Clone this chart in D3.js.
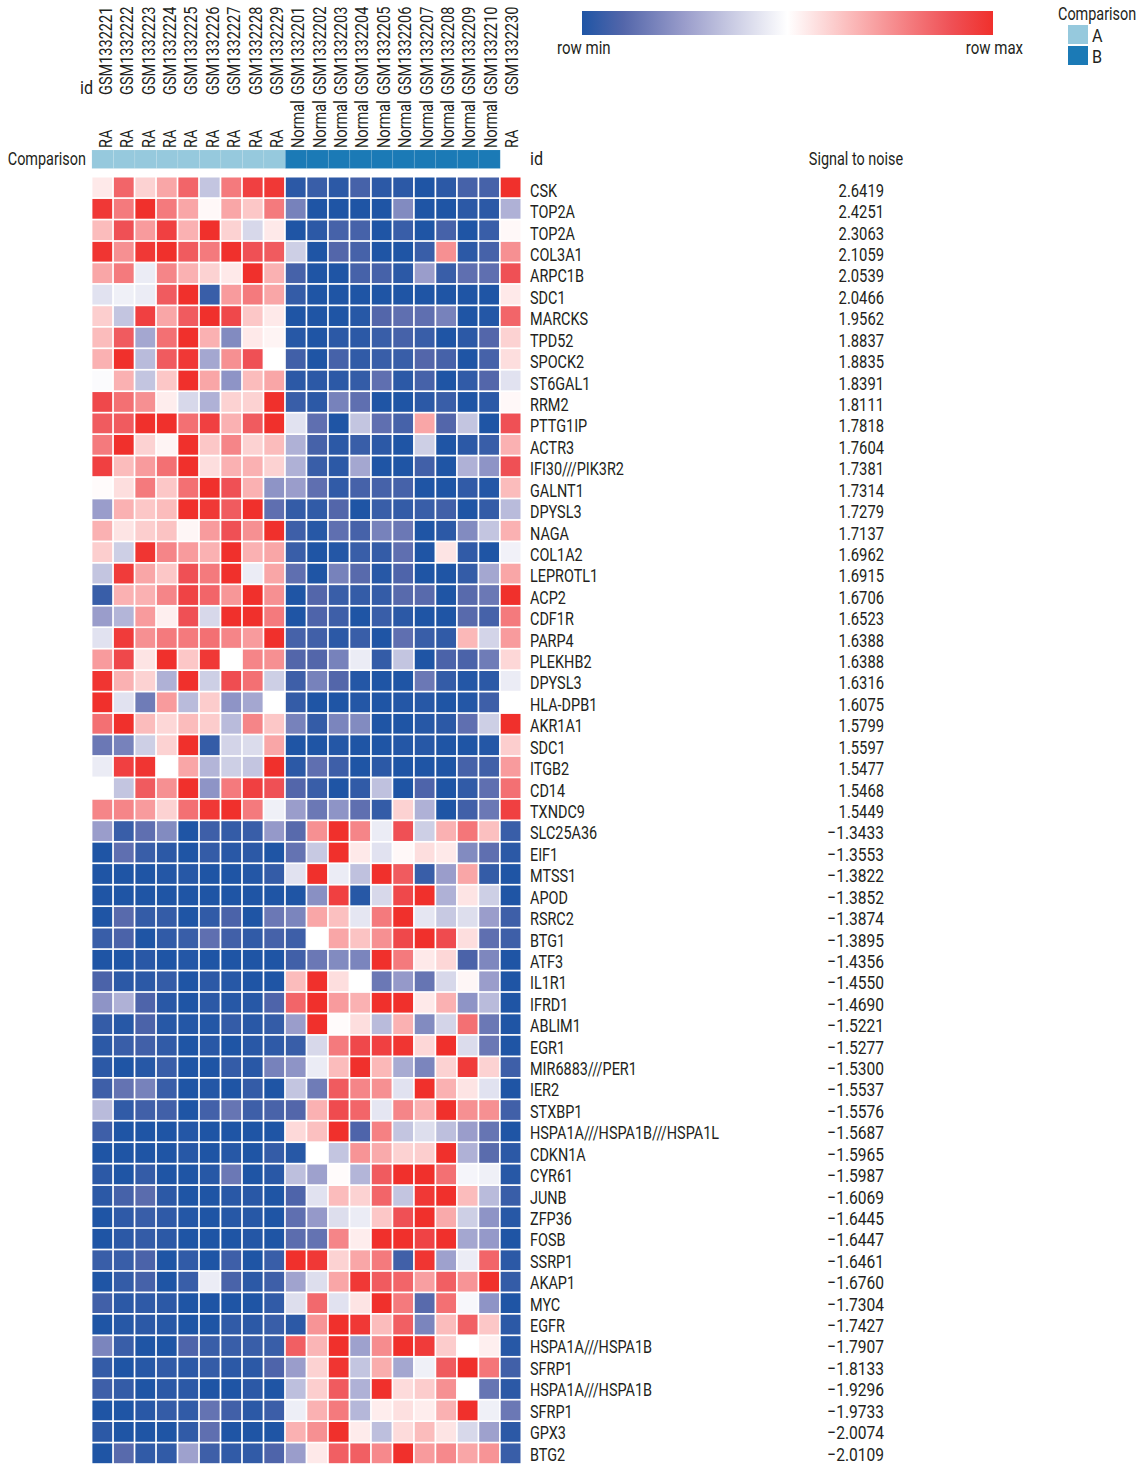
<!DOCTYPE html>
<html><head><meta charset="utf-8">
<script src="https://d3js.org/d3.v7.min.js"></script>
<style>html,body{margin:0;background:#fff}svg{display:block}text{font-family:Roboto,"Open Sans",sans-serif;fill:#231f20}</style>
</head><body><div id="c"></div>
<script>
const sampleIds=["GSM1332221","GSM1332222","GSM1332223","GSM1332224","GSM1332225","GSM1332226","GSM1332227","GSM1332228","GSM1332229","GSM1332201","GSM1332202","GSM1332203","GSM1332204","GSM1332205","GSM1332206","GSM1332207","GSM1332208","GSM1332209","GSM1332210","GSM1332230"];
const sampleTypes=["RA","RA","RA","RA","RA","RA","RA","RA","RA","Normal","Normal","Normal","Normal","Normal","Normal","Normal","Normal","Normal","Normal","RA"];
const comparison=["A","A","A","A","A","A","A","A","A","B","B","B","B","B","B","B","B","B","B",null];
const genes=["CSK","TOP2A","TOP2A","COL3A1","ARPC1B","SDC1","MARCKS","TPD52","SPOCK2","ST6GAL1","RRM2","PTTG1IP","ACTR3","IFI30///PIK3R2","GALNT1","DPYSL3","NAGA","COL1A2","LEPROTL1","ACP2","CDF1R","PARP4","PLEKHB2","DPYSL3","HLA-DPB1","AKR1A1","SDC1","ITGB2","CD14","TXNDC9","SLC25A36","EIF1","MTSS1","APOD","RSRC2","BTG1","ATF3","IL1R1","IFRD1","ABLIM1","EGR1","MIR6883///PER1","IER2","STXBP1","HSPA1A///HSPA1B///HSPA1L","CDKN1A","CYR61","JUNB","ZFP36","FOSB","SSRP1","AKAP1","MYC","EGFR","HSPA1A///HSPA1B","SFRP1","HSPA1A///HSPA1B","SFRP1","GPX3","BTG2"];
const signalToNoise=[2.6419,2.4251,2.3063,2.1059,2.0539,2.0466,1.9562,1.8837,1.8835,1.8391,1.8111,1.7818,1.7604,1.7381,1.7314,1.7279,1.7137,1.6962,1.6915,1.6706,1.6523,1.6388,1.6388,1.6316,1.6075,1.5799,1.5597,1.5477,1.5468,1.5449,-1.3433,-1.3553,-1.3822,-1.3852,-1.3874,-1.3895,-1.4356,-1.4550,-1.4690,-1.5221,-1.5277,-1.5300,-1.5537,-1.5576,-1.5687,-1.5965,-1.5987,-1.6069,-1.6445,-1.6447,-1.6461,-1.6760,-1.7304,-1.7427,-1.7907,-1.8133,-1.9296,-1.9733,-2.0074,-2.0109];
// row-scaled expression, -10 = row min, 10 = row max
const expression=[
[1,7,2,4,7,-3,6,9,9.5,-9.5,-9,-9.5,-8.5,-9.5,-9.5,-10,-9.5,-8.5,-8.5,10],
[9.5,6,10,6,4,0.3,4,2.5,6,-6.5,-10,-10,-10,-10,-6,-10,-10,-9.5,-9.5,-4],
[3,8,4.5,9,3.5,10,2,-2,1,-10,-9.5,-8.5,-8.5,-10,-9,-10,-8.5,-10,-9,0.3],
[9.7,5,9.5,10,7.5,6,10,8,7.5,-2.5,-10,-8,-8.5,-10,-10,-9,5,-9.5,-8.5,5],
[4,6,-1,5.5,3.5,2,1,10,3.5,-8.5,-10,-10,-8.5,-8.5,-9.5,-5,-9,-7.5,-7.5,8],
[-1.5,-0.8,-1,7.5,10,-9,4.5,6,4,-9.2,-10,-10,-10,-10,-10,-10,-10,-10,-10,1],
[2.2,-3,9,4,7.5,10,8.5,2.5,1,-10,-10,-10,-9.7,-8,-7.5,-7.5,-6.5,-10,-9.8,7],
[3,7.5,-4.5,6.5,10,3.5,-6,1,0.5,-9.7,-10,-9.5,-9.5,-9,-8.5,-9,-10,-9.5,-8,2],
[3.5,10,-3.5,7.5,9.5,-4.5,5,8,0,-8.7,-10,-8.5,-9.3,-9,-9,-8,-8.5,-10,-8.5,1.5],
[-0.2,3.5,-3,2.5,10,4,-5.5,3,4,-9.5,-9.5,-9.5,-9.2,-7.5,-9.5,-8.5,-10,-9.3,-8,-1.5],
[8.5,6.5,5,0.8,-2,-4,2,2,10,-9,-9.5,-6.5,-7.5,-10,-10,-9.5,-9,-10,-9.5,0.3],
[7.5,7.5,10,10,6.5,9,3.5,7.5,10,-1.5,-7.5,-10,-3,-7.5,-8.5,4,-8,-3,-10,8],
[6,10,2,0.5,10,2.5,5.5,2,3,-4,-8.5,-9.5,-9,-9.5,-10,-2.5,-10,-9.5,-9,3.5],
[9,3,4.5,6.5,10,1.5,3.5,3.5,2,-4,-9,-9.5,-4.5,-10,-10,-8.7,-10,-4,-5.5,8],
[0.2,1.5,6,2.5,6.5,10,8,3.5,-5.5,-5,-7.5,-9.3,-8.5,-8.5,-8.5,-10,-10,-9.3,-9.8,3],
[-5,3.5,2.5,3,10,9.5,7.5,10,-7.5,-9.2,-9.3,-8,-10,-9,-9.2,-9,-8.7,-10,-9.2,-3.5],
[3.5,1.2,2.2,2.7,0.4,4.5,8,5,10,-8.8,-9.7,-7.5,-8.5,-6.5,-7,-10,-9.5,-6,-3,3.5],
[2.2,-2.5,9.7,5.5,4.5,3.5,10,3.5,4,-9,-10,-9.8,-9,-9.2,-7.5,-10,1.2,-9.3,-10,-0.7],
[-3,9.3,4,2.5,8,6,10,-1,4,-7.5,-10,-6.5,-7.8,-9.7,-8.2,-10,-10,-9.2,-4.5,4],
[-9,3.5,3.5,5.5,8.8,7,4.7,10,5,-10,-8,-9,-9.2,-9.2,-7.8,-7.8,-10,-7.8,-7,10],
[-5,-3.8,4.5,0.7,8,-2,10,10,6,-10,-8.2,-8.8,-10,-9,-9.5,-10,-10,-7.8,-8.5,6],
[-1.5,9.3,5,6,6,6.5,5.5,4.5,10,-8.5,-8.7,-9.5,-9,-10,-7.5,-9,-9.3,3.2,-2.2,4.5],
[4.5,8.5,1.2,10,2.5,9.5,0,5.5,5,-8,-8,-6.5,-1,-9.2,-3,-10,-8.3,-8.3,-6.8,1.8],
[9.7,3.5,2,-4,10,-2.5,8.2,6.5,-2.5,-8.8,-6.5,-8,-9.8,-10,-10,-7,-9.2,-9.8,-9.5,-1],
[10,-1.5,-6.8,4.5,-3.5,2.3,-5.5,-4.5,0,-9.2,-10,-10,-9.8,-10,-9.8,-9.7,-10,-9.8,-8.8,0],
[6.5,10,3,1.8,3,2.3,-3.5,5.5,2.5,-6.5,-9.2,-6.3,-6,-10,-10,-9.7,-9.5,-7.5,-2.5,10],
[-7,-6.5,-2.5,2,10,-9.2,-2.2,-1.8,4,-10,-10,-9.8,-10,-10,-9.8,-9.7,-10,-10,-9.8,2.2],
[-1,9,9.7,0,4,-3.8,-2.5,-3,10,-9.5,-7.5,-8.8,-10,-9.5,-10,-10,-10,-8.5,-8.7,4.5],
[0,-3,7.5,5,10,-5.5,6,9,8,-8,-9,-10,-9.3,-3.2,-10,-8.2,-10,-9.3,-7.5,6.5],
[5.5,5.5,4.5,2,6.5,9.5,10,6,-0.8,-5,-7,-5.5,-7.5,-9.2,2,-4,-10,-8.7,-7,9],
[-5,-9,-7.5,-6,-10,-8.8,-9.2,-9,-5.2,-7.8,5,10,5.5,-1,8,-2.5,3.5,6.2,2.8,-9],
[-10,-7.5,-9,-9.5,-10,-9.2,-9.6,-9.5,-10,-7.3,-2.8,10,1,-1.5,0.3,1.5,1,-6,-7.5,-9.5],
[-10,-10,-10,-9.8,-9.7,-10,-10,-9.8,-9.2,-1.5,10,-1,-3.2,10,7.5,-9,-5,4,-9.2,-10],
[-10,-10,-10,-10,-10,-10,-10,-10,-10,-10,-5.7,9,-9.7,-2,8.5,10,-4,1.2,-2.5,-10],
[-10,-7.8,-9.2,-9.2,-10,-9.3,-8.3,-10,-7,-6.3,4,2.8,-1.3,6,10,-1.3,-2.8,-1.7,-5,-8.8],
[-9,-8.3,-10,-9.3,-9,-7.5,-8.7,-9.3,-8.5,-8.8,0,4,2.7,5,8.5,10,8.3,1.5,-7.5,-8.8],
[-10,-10,-9.6,-10,-9.8,-10,-10,-10,-10,-8.7,-7,-6,-6.3,10,6,1,1.8,-8.3,-6.2,-10],
[-8.3,-9.5,-9.5,-9.2,-10,-9.5,-9.7,-10,-10,3,10,1.5,0,-7,-5.2,-7.2,-2,0.4,-5,-10],
[-5.5,-4,-8.2,-9.6,-10,-9.5,-9.7,-9.7,-8.2,7,10,4.5,3.5,10,10,1,3.5,-5.5,-3.5,-10],
[-9.2,-9.7,-8.3,-9.7,-9.8,-9.8,-9.2,-9.6,-9.2,-5,10,0.2,1.5,-3.5,3.5,-6,-2.2,6.5,-7,-10],
[-9.5,-9,-8.7,-9.3,-10,-9.6,-10,-9.6,-9.4,-9,-2,6,8.5,9,9.7,1.8,10,-1.8,-7,-10],
[-9.5,-10,-9.7,-9,-10,-10,-9.2,-9.6,-6.5,-5.5,-1,3,10,3.2,-4.3,-6.3,2,9.3,2,-8.8],
[-8.8,-7.3,-6.5,-9,-10,-9.8,-10,-9.2,-10,-3,-6.8,7.5,5.5,5,-1.5,10,3.5,1.2,-1.5,-10],
[-3.5,-9.3,-8.7,-8.7,-10,-8.6,-7.2,-8.8,-8.4,-8,3.5,8.3,7,-1.3,5.5,3.5,10,5,5,-8.7],
[-8.8,-10,-10,-10,-9.8,-10,-10,-10,-10,1.7,2.8,10,-8.2,5.7,-3,-1.7,-3.3,-5,-7.2,-10],
[-10,-10,-10,-10,-9.7,-10,-9.7,-10,-9.2,-9.7,0,-3,4.8,3.8,2,2.2,10,-4,-7.7,-9.5],
[-9.5,-10,-9.2,-10,-10,-9.7,-7,-10,-9.6,-3.3,-4.8,0.2,-3.8,7.5,10,10,6.5,-0.5,-0.8,-9.7],
[-9.5,-8.5,-7.7,-9.5,-10,-10,-9.6,-9.6,-10,-8.2,-1.5,3,2,7,-3,9.5,10,3,-3.5,-9],
[-10,-9.4,-9,-9.4,-9.8,-10,-9.7,-9.7,-10,-7.5,-5.2,-1.7,-1,2.5,8,10,3.8,-2.5,-5.5,-9.7],
[-10,-9.5,-9.2,-9.5,-10,-10,-10,-9.8,-10,-7.6,-7.3,5.5,0.8,10,10,8.8,10,-4.5,-5.2,-10],
[-9,-9,-8.3,-10,-9.3,-10,-8.8,-10,-9,10,9.5,2,4,6,-8.7,9.7,-4.8,-1,7,-9.5],
[-10,-9.2,-8.5,-10,-9,-1,-8.4,-9.5,-8.8,-4.7,-1.7,4,9.5,7.5,7,4.3,7.3,4.8,10,-9.2],
[-8.7,-9.5,-9.4,-9.5,-10,-10,-10,-10,-9.3,-1.7,6.8,-1.5,1.2,10,6,-7.8,6.5,-0.4,-5.5,-10],
[-10,-9.7,-9.5,-9.7,-10,-10,-9.3,-9.5,-9,-9.5,4.8,10,9.5,3,7.3,-6.3,3,7.2,2.5,-9.5],
[-6.3,-9,-10,-10,-8.2,-9,-9,-9,-9,7.3,3.3,10,-4.8,5.2,10,9.3,2.3,0,0.7,-9.7],
[-9.2,-10,-9.7,-9.3,-9.5,-9.2,-9.5,-9.5,-8.2,-5,2,9.7,-3,3.7,-4.5,-0.8,7.5,10,6.2,-8.7],
[-8.8,-9.2,-10,-9.5,-9.5,-10,-10,-9.5,-10,-3.3,2.2,7.5,-4,10,1.6,2.3,5,0,-7.2,-9.5],
[-10,-10,-9.6,-9.2,-9.3,-7.3,-8.7,-9.5,-8.9,-0.9,3.5,6,-3.7,0.8,1.4,0.8,3.5,10,-0.8,-7],
[-9.5,-10,-10,-10,-9.3,-7.5,-10,-10,-10,3.5,5,10,0.9,-3.3,1.6,3,1.2,-2,-4.8,-9.5],
[-10,-7.8,-9.3,-9.3,-4.8,-8.8,-9.3,-9.3,-8.2,-5,1,7.3,7.3,5.3,10,4.5,5.3,4,4.8,-9]
];
const legendClasses=["A","B"];

const W=1142,H=1464,FS=19,SX=0.76;
const svg=d3.select("#c").append("svg").attr("width",W).attr("height",H);
const x=d3.scaleBand().domain(d3.range(sampleIds.length)).range([92.4,520.5]).paddingInner(0.08);
const y=d3.scaleBand().domain(d3.range(genes.length)).range([177.5,1463.2]).paddingInner(0.08);
const colLabelX=d3.scalePoint().domain(d3.range(sampleIds.length)).range([112,518]);
const rowLabelY=d3.scalePoint().domain(d3.range(genes.length)).range([196.8,1460.6]);
const color=d3.scaleLinear().domain([-10,-8,-5,-3,0,3,6,8,10]).range(["#1f55a5","#5366aa","#9a9dcb","#c3c5e0","#ffffff","#fbbcbc","#f47a7d","#ef5055","#f0302c"]);
const classColor=d3.scaleOrdinal().domain(legendClasses).range(["#96c9dd","#1b7ab6"]);
const narrow=(px,py,sx=SX,rot=0)=>`translate(${px},${py})${rot?` rotate(${rot})`:""} scale(${sx},1)`;

// heatmap
svg.append("g").selectAll("g").data(expression).join("g")
  .attr("transform",(d,i)=>`translate(0,${y(i)})`)
  .selectAll("rect").data(d=>d).join("rect")
  .attr("x",(d,j)=>x(j)).attr("width",x.bandwidth()).attr("height",y.bandwidth()).attr("fill",d=>color(d));

// annotation bar
svg.append("g").selectAll("rect").data(comparison.map((c,i)=>({c,i})).filter(d=>d.c)).join("rect")
  .attr("x",d=>x(d.i)-0.5).attr("y",150).attr("width",x.step()).attr("height",18.5)
  .attr("fill",d=>classColor(d.c)).attr("stroke","#fff").attr("stroke-opacity",0.12).attr("stroke-width",0.8);

// column labels
const colLabel=(vals,bottom)=>svg.append("g").selectAll("text").data(vals).join("text")
  .attr("transform",(d,i)=>narrow(colLabelX(i),bottom,0.765,-90))
  .attr("font-size",FS).text(d=>d);
colLabel(sampleIds,95);
colLabel(sampleTypes,148);
svg.append("text").attr("transform",narrow(80,94,0.85)).attr("font-size",FS).text("id");

// row labels
svg.append("text").attr("transform",narrow(86,165)).attr("font-size",FS).attr("text-anchor","end").text("Comparison");
svg.append("text").attr("transform",narrow(530,165,0.85)).attr("font-size",FS).text("id");
svg.append("text").attr("transform",narrow(856,165)).attr("font-size",FS).attr("text-anchor","middle").text("Signal to noise");
svg.append("g").selectAll("text").data(genes).join("text")
  .attr("transform",(d,i)=>narrow(530,rowLabelY(i))).attr("font-size",FS).text(d=>d);
const fmt=v=>(v<0?"\u2212":"")+Math.abs(v).toFixed(4);
svg.append("g").selectAll("text").data(signalToNoise).join("text")
  .attr("transform",(d,i)=>narrow(884,rowLabelY(i),d<0?0.82:0.778)).attr("font-size",FS).attr("text-anchor","end").text(fmt);

// colour bar
const grad=svg.append("defs").append("linearGradient").attr("id","g");
grad.selectAll("stop").data(color.domain()).join("stop").attr("offset",d=>(d+10)/20).attr("stop-color",d=>color(d));
svg.append("rect").attr("x",582).attr("y",11).attr("width",411).attr("height",24).attr("fill","url(#g)");
svg.append("text").attr("transform",narrow(557,54,0.79)).attr("font-size",FS).text("row min");
svg.append("text").attr("transform",narrow(1023,54,0.79)).attr("font-size",FS).attr("text-anchor","end").text("row max");

// class legend
svg.append("text").attr("transform",narrow(1058,20)).attr("font-size",FS).text("Comparison");
const lg=svg.append("g").selectAll("g").data(legendClasses).join("g").attr("transform",(d,i)=>`translate(0,${25+i*21})`);
lg.append("rect").attr("x",1068).attr("width",20).attr("height",19).attr("fill",d=>classColor(d));
lg.append("text").attr("transform",narrow(1092,17,0.85)).attr("font-size",FS).text(d=>d);
</script></body></html>
